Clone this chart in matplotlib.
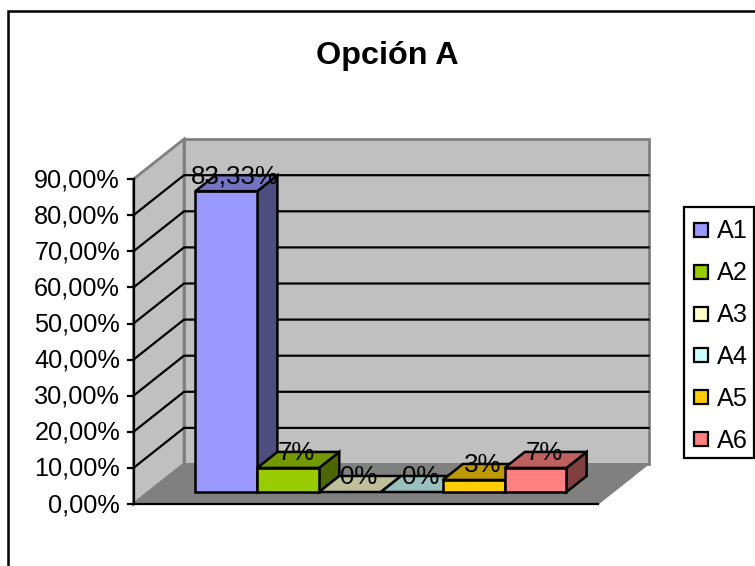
import matplotlib
matplotlib.use("Agg")
import matplotlib.pyplot as plt
from matplotlib.patches import Polygon, Rectangle

plt.rcParams['font.family'] = ['Liberation Sans', 'DejaVu Sans']

series = ['A1', 'A2', 'A3', 'A4', 'A5', 'A6']
values = [83.33, 6.67, 0.0, 0.0, 3.33, 6.67]
value_labels = ['83,33%', '7%', '0%', '0%', '3%', '7%']
colors = ['#9999FF', '#99CC00', '#FFFFCC', '#CCFFFF', '#FFCC00', '#FF8080']
ticks = [0, 10, 20, 30, 40, 50, 60, 70, 80, 90]
tick_labels = ['0,00%', '10,00%', '20,00%', '30,00%', '40,00%', '50,00%', '60,00%', '70,00%', '80,00%', '90,00%']
title = 'Opción A'

W, H = 755, 566
fig = plt.figure(figsize=(W / 100, H / 100), dpi=100, facecolor='white')
ax = fig.add_axes([0, 0, 1, 1])
ax.set_xlim(0, W)
ax.set_ylim(H, 0)
ax.axis('off')

# oblique projection: s = along the floor 0..1, v = value, d = depth 0..1
X0, FLOOR_W, Y0, PX = 133.5, 464.5, 504, 36.1 / 10
DX, DY = 50.5, 40
def P(s, v, d):
    return (X0 + s * FLOOR_W + d * DX, Y0 - v * PX - d * DY)

def face(pts, fc, ec='black', lw=1.8, z=2):
    ax.add_patch(Polygon(pts, closed=True, fc=fc, ec=ec, lw=lw, joinstyle='miter', zorder=z))

def shade(c, f):
    r, g, b = matplotlib.colors.to_rgb(c)
    return (r * f, g * f, b * f)

TOP = ticks[-1]
ax.add_patch(Rectangle((7.5, 10.5), 800, 600, fc='white', ec='black', lw=1.8, zorder=0))
face([P(0, 0, 1), P(1, 0, 1), P(1, TOP, 1), P(0, TOP, 1)], '#C0C0C0', '#808080', 2.0, 1)
face([P(0, 0, 0), P(0, 0, 1), P(0, TOP, 1), P(0, TOP, 0)], '#C0C0C0', '#808080', 2.0, 1)
face([P(0, 0, 0), P(1, 0, 0), P(1, 0, 1), P(0, 0, 1)], '#808080', '#808080', 1.0, 1)

for t, lab in zip(ticks, tick_labels):
    if 0 < t < TOP:
        ax.plot(*zip(P(0, t, 0), P(0, t, 1), P(1, t, 1)), color='black', lw=1.6, zorder=1.5, solid_joinstyle='miter')
    x, y = P(0, t, 0)
    ax.plot([x - 6, x], [y, y], color='black', lw=1.6, zorder=3)
    ax.text(x - 13.5, y + 1, lab, ha='right', va='center', fontsize=18.2, color='black', zorder=5)
ax.plot(*zip(P(0, 0, 0), P(0, TOP, 0)), color='black', lw=1.6, zorder=3)
ax.plot(*zip(P(0, 0, 0), P(1, 0, 0)), color='black', lw=1.6, zorder=3)

n = len(values)
gap = 0.755
bw = 1 / (n + 2 * gap)
d0, d1 = 0.3, 0.7
for i, (v, c, lab) in enumerate(zip(values, colors, value_labels)):
    s0 = (gap + i) * bw
    s1 = s0 + bw
    z = 2 + i * 0.01
    if v > 0:
        face([P(s1, 0, d0), P(s1, 0, d1), P(s1, v, d1), P(s1, v, d0)], shade(c, 0.5), z=z)
        face([P(s0, 0, d0), P(s1, 0, d0), P(s1, v, d0), P(s0, v, d0)], c, z=z)
    face([P(s0, v, d0), P(s1, v, d0), P(s1, v, d1), P(s0, v, d1)], shade(c, 0.75), z=z)
    lx, ly = P((s0 + s1) / 2, v, 0.5)
    ax.text(lx - 1.5, ly - 6.5, lab, ha='center', va='center', fontsize=18.6, color='black', zorder=6)

ax.text(387, 56, title, ha='center', va='center', fontsize=23.3, fontweight='bold', color='black')

# legend
ax.add_patch(Rectangle((684, 207), 70, 251, fc='white', ec='black', lw=1.6, zorder=3))
for i, (s, c) in enumerate(zip(series, colors)):
    y = 230 + i * 41.8
    ax.add_patch(Rectangle((694, y - 7), 14, 14, fc=c, ec='black', lw=1.6, zorder=4))
    ax.text(717, y + 1.5, s, ha='left', va='center', fontsize=18.2, color='black', zorder=4)

fig.savefig('out.png', dpi=100)
